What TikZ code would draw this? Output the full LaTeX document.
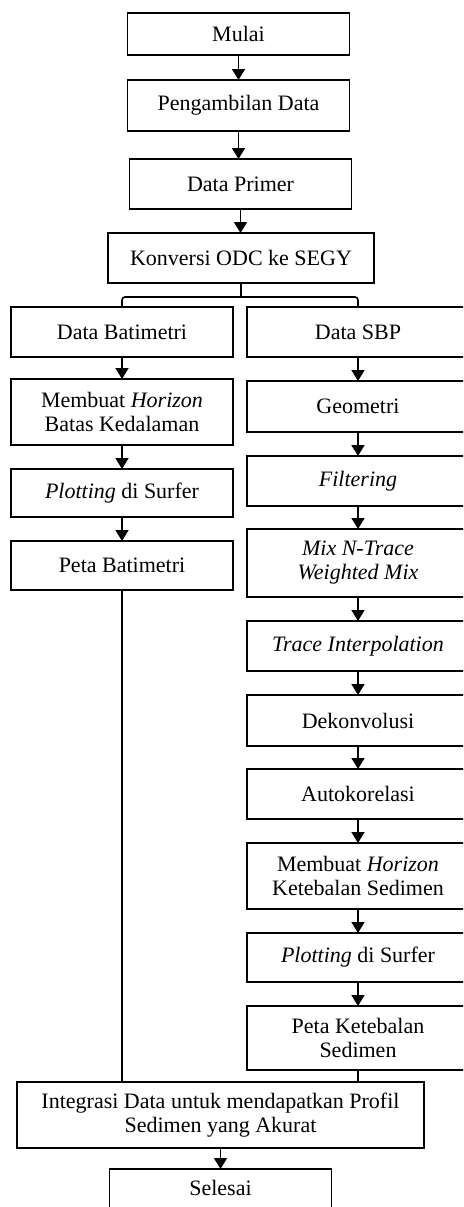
\documentclass[tikz,border=0pt]{standalone}
\usepackage{fontspec}
\setmainfont{Liberation Serif}
\usetikzlibrary{arrows.meta}
\begin{document}
\begin{tikzpicture}[x=0.5pt,y=-0.5pt,
	kotak/.style={draw,rectangle,line width=0.8pt,inner sep=0pt,outer sep=0pt,
		minimum width=111pt,align=center,font=\fontsize{11}{12}\selectfont},
	panah/.style={line width=0.8pt,-{Triangle[width=6.5pt,length=5.5pt]}},
	garis/.style={line width=0.8pt}]
	\useasboundingbox (0,0) rectangle (463,1207);
	\clip (0,0) rectangle (463,1207);
	\node[name=mulai,kotak,minimum height=21pt] at (238.5,34){Mulai};
	\node[name=ambil,kotak,minimum height=25.5pt] at (238.5,105.5){Pengambilan Data};
	\node[name=primer,kotak,minimum height=25pt] at (240.5,184){Data Primer};
	\node[name=konversi,kotak,minimum height=25pt,minimum width=133pt] at (241,258){Konversi ODC ke SEGY};
	\node[name=batimetri,kotak,minimum height=25pt] at (122,332){Data Batimetri};
	\node[name=sbp,kotak,minimum height=25pt] at (358,332){Data SBP};
	\node[name=horizonA,kotak,minimum height=33pt] at (122,412){Membuat \textit{Horizon}\\Batas Kedalaman};
	\node[name=plotA,kotak,minimum height=24pt] at (122,493){\textit{Plotting} di Surfer};
	\node[name=petabat,kotak,minimum height=24.5pt] at (122,565.5){Peta Batimetri};
	\node[name=geometri,kotak,minimum height=25.5pt] at (358,406.5){Geometri};
	\node[name=filter,kotak,minimum height=25pt] at (358,481){\textit{Filtering}};
	\node[name=mix,kotak,minimum height=34pt] at (358,563){\textit{Mix N-Trace}\\\textit{Weighted Mix}};
	\node[name=trace,kotak,minimum height=25pt] at (358,646){\textit{Trace Interpolation}};
	\node[name=dekon,kotak,minimum height=25.5pt] at (358,720.5){Dekonvolusi};
	\node[name=auto,kotak,minimum height=25pt] at (358,794){Autokorelasi};
	\node[name=horizonB,kotak,minimum height=33pt] at (358,876){Membuat \textit{Horizon}\\Ketebalan Sedimen};
	\node[name=plotB,kotak,minimum height=24.5pt] at (358,957.5){\textit{Plotting} di Surfer};
	\node[name=petatebal,kotak,minimum height=32pt] at (358,1038){Peta Ketebalan\\Sedimen};
	\node[name=integrasi,kotak,minimum height=33pt,minimum width=203.5pt] at (220.5,1115){Integrasi Data untuk mendapatkan Profil\\Sedimen yang Akurat};
	\node[name=selesai,kotak,minimum height=25pt,text depth=6pt] at (220.5,1194){Selesai};
	% panah lurus
	\foreach \a/\b in {mulai/ambil,ambil/primer,primer/konversi,batimetri/horizonA,horizonA/plotA,plotA/petabat,
		sbp/geometri,geometri/filter,filter/mix,mix/trace,trace/dekon,dekon/auto,auto/horizonB,horizonB/plotB,
		plotB/petatebal,integrasi/selesai}
		\draw[panah] (\a.south) -- (\a.south |- \b.north);
	% cabang
	\coordinate (cabang) at (240,297);
	\draw[garis] (konversi.south) -- (konversi.south |- cabang);
	\draw[garis,rounded corners=1.5pt] (batimetri.north) |- (cabang) -| (sbp.north);
	% gabung
	\draw[garis] (petabat.south) -- (petabat.south |- integrasi.north);
	\draw[garis] (petatebal.south) -- (petatebal.south |- integrasi.north);
\end{tikzpicture}
\end{document}
